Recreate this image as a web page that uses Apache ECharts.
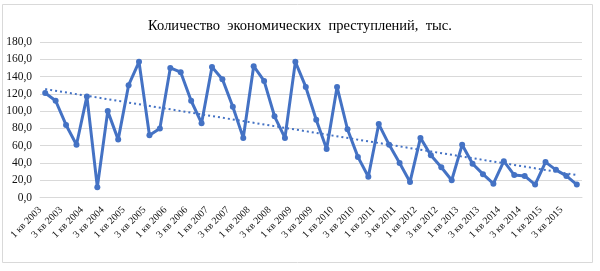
<!DOCTYPE html>
<html>
<head>
<meta charset="utf-8">
<script src="https://cdn.jsdelivr.net/npm/echarts@6/dist/echarts.min.js"></script>
<style>
  html, body { margin: 0; padding: 0; background: #fff; }
  #chart { width: 600px; height: 271px; }
</style>
</head>
<body>
<div id="chart"></div>
<script>
// годы и кварталы
const years = [2003, 2004, 2005, 2006, 2007, 2008, 2009, 2010, 2011, 2012, 2013, 2014, 2015]
const quarters = ['1 кв', '2 кв', '3 кв', '4 кв']
const categories = []
years.forEach(y => quarters.forEach(q => categories.push(q + ' ' + y)))

// количество преступлений, тыс. (по кварталам)
const crimes = [
  121, 112, 84, 61,
  117, 12, 100, 67,
  130, 157, 72, 80,
  150, 145, 112, 86,
  151, 137, 105, 69,
  152, 135, 94, 69,
  157, 128, 90, 56,
  128, 79, 47, 24,
  85, 61, 40, 18,
  69, 49, 35, 20,
  61, 39, 27, 16,
  42, 26, 25, 15,
  41, 32, 25, 15
]

// линия тренда (начало и конец)
const trendStart = 125.5
const trendEnd = 26

const yTicks = { min: 0, max: 180, interval: 20 }

const chart = echarts.init(document.getElementById('chart'))
const option = {
  animation: false,
  title: {
    text: 'Количество  экономических  преступлений,  тыс.',
    left: 'center',
    top: 14,
    textStyle: {
      fontFamily: 'Liberation Serif',
      fontWeight: 'normal',
      fontSize: 14.5,
      color: '#000'
    }
  },
  graphic: [{
    type: 'rect',
    shape: { x: 2.5, y: 4.5, width: 590, height: 258 },
    style: { fill: 'none', stroke: '#d9d9d9', lineWidth: 1 },
    silent: true,
    z: -1
  }],
  grid: {
    left: 40,
    right: 18,
    top: 42,
    bottom: 73.5,
    containLabel: false
  },
  xAxis: {
    type: 'category',
    data: categories,
    boundaryGap: true,
    axisLine: { lineStyle: { color: '#d9d9d9' } },
    axisTick: { show: false },
    axisLabel: {
      interval: 1,
      rotate: 45,
      margin: 6,
      padding: [0, 7, 0, 0],
      fontFamily: 'Liberation Serif',
      fontSize: 10,
      color: '#111'
    }
  },
  yAxis: {
    type: 'value',
    min: yTicks.min,
    max: yTicks.max,
    interval: yTicks.interval,
    axisLine: { show: false },
    axisTick: { show: false },
    splitLine: { lineStyle: { color: '#d9d9d9' } },
    axisLabel: {
      margin: 8,
      fontFamily: 'Liberation Serif',
      fontSize: 11.5,
      color: '#111',
      formatter: v => v.toFixed(1).replace('.', ',')
    }
  },
  series: [{
    type: 'line',
    data: crimes,
    symbol: 'circle',
    symbolSize: 6,
    itemStyle: { color: '#4472C4' },
    lineStyle: { color: '#4472C4', width: 3 },
    markLine: {
      silent: true,
      symbol: 'none',
      label: { show: false },
      lineStyle: { color: '#4472C4', type: [2, 3], width: 2 },
      data: [[
        { coord: [0, trendStart] },
        { coord: [crimes.length - 1, trendEnd] }
      ]]
    }
  }]
}
chart.setOption(option)
</script>
</body>
</html>
